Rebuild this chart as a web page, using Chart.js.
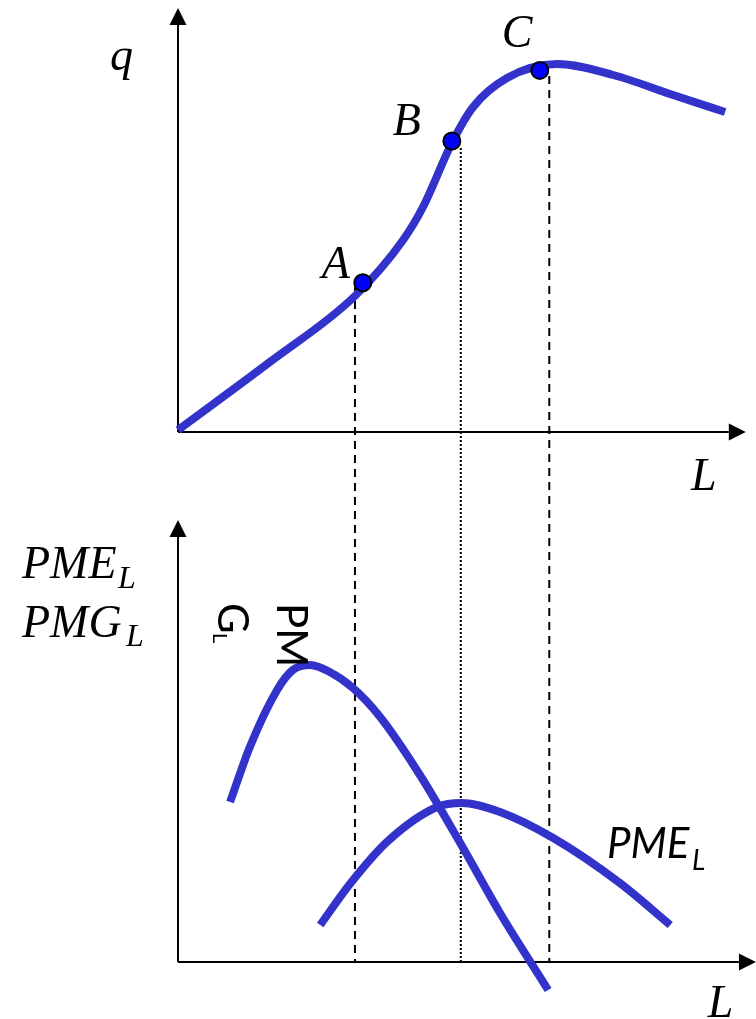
<!DOCTYPE html>
<html>
<head>
<meta charset="utf-8">
<script src="https://cdn.jsdelivr.net/npm/chart.js@4.4.0/dist/chart.umd.min.js"></script>
<style>
  html, body { margin: 0; padding: 0; background: #fff; }
  #wrap { width: 756px; height: 1019px; }
</style>
</head>
<body>
<div id="wrap"><canvas id="myChart" width="756" height="1019"></canvas></div>
<script>
// producto total q(L)
const qL   = [0, 16.4, 31.6, 40.2, 43.75, 48.9, 52.7, 58.75, 67.7, 77.7, 88.4, 97.7];
const qVal = [0.5, 17.5, 34, 48, 56.25, 72.25, 81.25, 88.5, 92, 89.25, 84.25, 80];

// producto marginal PMG_L
const pmgL   = [9.3, 12.9, 17.7, 20.5, 23.6, 27.1, 31.25, 36.1, 43.2, 50.4, 57.5, 66.1];
const pmgVal = [40, 54, 68, 73, 74.25, 72.5, 68.5, 61.25, 46.75, 29.75, 12.25, -7];

// producto medio PME_L
const pmeL   = [25.4, 30.7, 37.3, 46.25, 50.7, 57.5, 67, 78.9, 87.9];
const pmeVal = [9.25, 19.5, 30, 38.75, 39.75, 37.5, 31, 19.75, 9.25];

// puntos A, B, C
const ptNames = ['A', 'B', 'C'];
const ptL = [33, 48.9, 64.6];
const ptQ = [37.3, 72.75, 90.4];

// lineas guia verticales (desde q hasta el eje L de abajo)
const guideL = [31.6, 50.5, 66.3];
const guideQ = [36.25, 71, 89];
const guideDash = [[8, 6], [2, 2], [8, 6]];

const toXY = (xs, ys) => xs.map((v, i) => ({x: v, y: ys[i]}));

const BLUE = '#3333cc';
const SERIF = '"Liberation Serif", "DejaVu Serif", serif';
const SANS = 'Lato, "Open Sans", sans-serif';

function flecha(ctx, x0, y0, x1, y1) {
  const ang = Math.atan2(y1 - y0, x1 - x0);
  const len = 17, half = 8.5;
  const bx = x1 - len * Math.cos(ang), by = y1 - len * Math.sin(ang);
  ctx.beginPath();
  ctx.moveTo(x0, y0);
  ctx.lineTo(bx, by);
  ctx.stroke();
  ctx.beginPath();
  ctx.moveTo(x1, y1);
  ctx.lineTo(bx - half * Math.sin(ang), by + half * Math.cos(ang));
  ctx.lineTo(bx + half * Math.sin(ang), by - half * Math.cos(ang));
  ctx.closePath();
  ctx.fill();
}

const ejes = {
  id: 'ejes',
  beforeDatasetsDraw(chart) {
    const {ctx, scales: {x, yq, yp}} = chart;
    ctx.save();
    ctx.strokeStyle = '#000';
    ctx.fillStyle = '#000';
    ctx.lineWidth = 2;
    // guias
    guideL.forEach((l, i) => {
      ctx.setLineDash(guideDash[i]);
      ctx.beginPath();
      ctx.moveTo(x.getPixelForValue(l), yq.getPixelForValue(guideQ[i]));
      ctx.lineTo(x.getPixelForValue(l), yp.getPixelForValue(0));
      ctx.stroke();
    });
    ctx.setLineDash([]);
    // ejes de arriba
    const x0 = x.getPixelForValue(0);
    flecha(ctx, x0, yq.getPixelForValue(0), x0, yq.getPixelForValue(106));
    flecha(ctx, x0, yq.getPixelForValue(0), x.getPixelForValue(101.4), yq.getPixelForValue(0));
    // ejes de abajo
    flecha(ctx, x0, yp.getPixelForValue(0), x0, yp.getPixelForValue(110.5));
    flecha(ctx, x0, yp.getPixelForValue(0), x.getPixelForValue(103.2), yp.getPixelForValue(0));
    ctx.restore();
  },
  afterDatasetsDraw(chart) {
    const {ctx, scales: {x, yq, yp}} = chart;
    const x0 = x.getPixelForValue(0);
    ctx.save();
    ctx.fillStyle = '#000';
    ctx.textBaseline = 'alphabetic';
    ctx.textAlign = 'left';
    ctx.font = 'italic 46px ' + SERIF;
    ctx.fillText('q', x0 - 68, yq.getPixelForValue(90.5));
    // A B C
    const offs = [[-41, -5], [-59, -6], [-38, -23]];
    ptNames.forEach((n, i) => {
      ctx.fillText(n, x.getPixelForValue(ptL[i]) + offs[i][0], yq.getPixelForValue(ptQ[i]) + offs[i][1]);
    });
    ctx.fillText('L', x.getPixelForValue(91.6), yq.getPixelForValue(-14.5));
    ctx.fillText('L', x.getPixelForValue(94.6), yp.getPixelForValue(-13.75));
    // titulo eje vertical de abajo
    ctx.fillText('PME', 22, 578);
    ctx.fillText('PMG', 22, 637);
    ctx.font = 'italic 32px ' + SERIF;
    ctx.fillText('L', 118, 588);
    ctx.fillText('L', 126, 646);
    // PME_L a la derecha
    ctx.font = 'italic 42px ' + SANS;
    ctx.fillText('PME', 607, 858);
    ctx.font = 'italic 28px ' + SANS;
    ctx.fillText('L', 692, 870);
    // PMG_L girado
    ctx.save();
    ctx.translate(277, 603);
    ctx.rotate(Math.PI / 2);
    ctx.font = '42px ' + SANS;
    ctx.fillText('PM', 0, 0);
    ctx.fillText('G', 0, 59);
    ctx.font = '20px ' + SANS;
    ctx.fillText('L', 30, 64);
    ctx.restore();
    ctx.restore();
  }
};

const ctx = document.getElementById('myChart').getContext('2d');
const myChart = new Chart(ctx, {
  type: 'line',
  data: {
    datasets: [
      {
        label: 'puntos',
        data: toXY(ptL, ptQ),
        yAxisID: 'yq',
        showLine: false,
        pointRadius: 8.5,
        pointBorderWidth: 2,
        pointBackgroundColor: '#0000ff',
        pointBorderColor: '#000'
      },
      {
        label: 'q',
        data: toXY(qL, qVal),
        yAxisID: 'yq',
        borderColor: BLUE,
        borderWidth: 8,
        pointRadius: 0,
        cubicInterpolationMode: 'monotone'
      },
      {
        label: 'PMG',
        data: toXY(pmgL, pmgVal),
        yAxisID: 'yp',
        borderColor: BLUE,
        borderWidth: 8,
        pointRadius: 0,
        cubicInterpolationMode: 'monotone'
      },
      {
        label: 'PME',
        data: toXY(pmeL, pmeVal),
        yAxisID: 'yp',
        borderColor: BLUE,
        borderWidth: 8,
        pointRadius: 0,
        cubicInterpolationMode: 'monotone'
      }
    ]
  },
  options: {
    responsive: false,
    animation: false,
    events: [],
    layout: { padding: 0, autoPadding: false },
    plugins: { legend: { display: false }, tooltip: { enabled: false } },
    scales: {
      x:  { type: 'linear', display: false, min: -178 / 5.6, max: (756 - 178) / 5.6 },
      yq: { type: 'linear', display: false, min: (432 - 1019) / 4, max: 432 / 4 },
      yp: { type: 'linear', display: false, min: (962 - 1019) / 4, max: 962 / 4 }
    }
  },
  plugins: [ejes]
});
</script>
</body>
</html>
